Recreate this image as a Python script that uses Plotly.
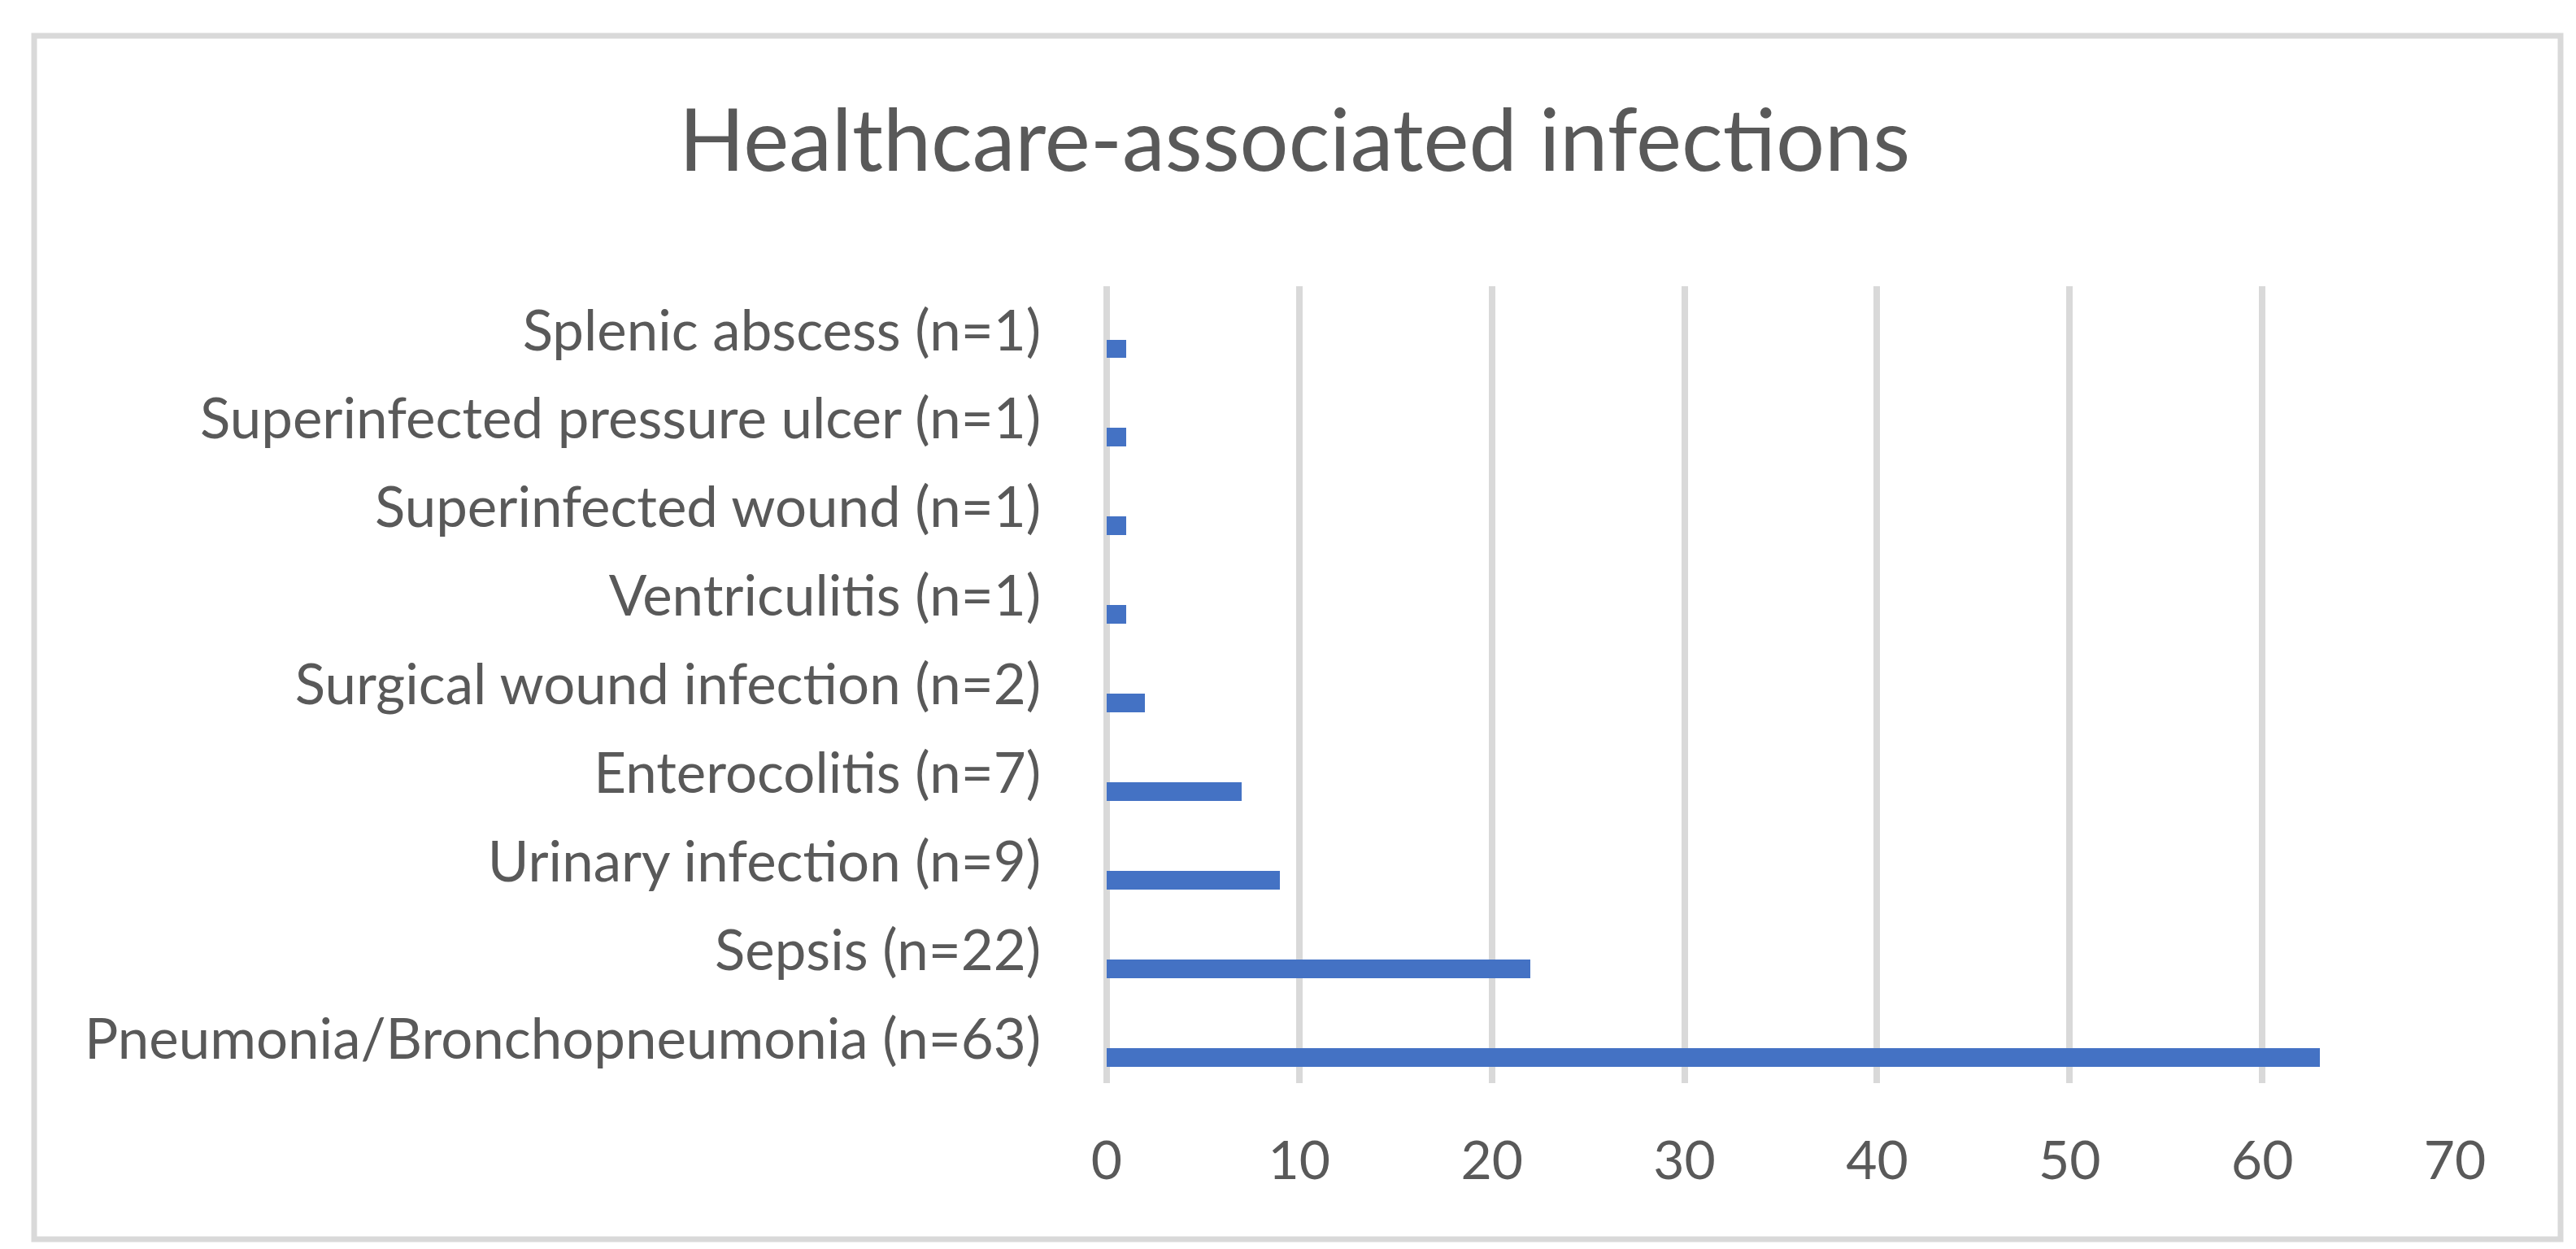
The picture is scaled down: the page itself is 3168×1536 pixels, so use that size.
import plotly.graph_objects as go

# Categories listed bottom-to-top (as drawn on the y axis)
categories = [
    "Pneumonia/Bronchopneumonia (n=63)",
    "Sepsis (n=22)",
    "Urinary infection (n=9)",
    "Enterocolitis (n=7)",
    "Surgical wound infection (n=2)",
    "Ventriculitis (n=1)",
    "Superinfected wound (n=1)",
    "Superinfected pressure ulcer (n=1)",
    "Splenic abscess (n=1)",
]
counts = [63, 22, 9, 7, 2, 1, 1, 1, 1]
x_ticks = [0, 10, 20, 30, 40, 50, 60, 70]

title_text = "Healthcare-associated infections"

FONT = "Lato"
TXT = "#595959"
GRID = "#d9d9d9"
BAR = "#4472C4"

W, H = 3168, 1536
ML, MR, MT, MB = 1353, 157, 344, 212
pw = W - ML - MR
ph = H - MT - MB

fig = go.Figure()
fig.add_trace(go.Bar(
    y=categories,
    x=counts,
    orientation="h",
    marker=dict(color=BAR, line=dict(width=0)),
    width=0.21,
    offset=-0.312,
    showlegend=False,
    hoverinfo="x+y",
))

# outer chart border (decoration)
bx0, bx1, by0, by1 = 34, 3141, 36, 1516
fig.add_shape(
    type="rect", xref="paper", yref="paper",
    x0=(bx0 - ML) / pw, x1=(bx1 - ML) / pw,
    y0=(H - MB - by1) / ph, y1=(H - MB - by0) / ph,
    line=dict(color=GRID, width=7), fillcolor="rgba(0,0,0,0)", layer="below",
)

fig.update_layout(
    width=W, height=H,
    margin=dict(l=ML, r=MR, t=MT, b=MB, autoexpand=False),
    paper_bgcolor="white",
    plot_bgcolor="white",
    font=dict(family=FONT, color=TXT),
    title=dict(
        text=title_text,
        x=0.5, xanchor="center", xref="container",
        y=1 - 165 / H, yanchor="middle", yref="container",
        font=dict(family=FONT, size=106, color=TXT),
    ),
    bargap=0,
)
fig.update_xaxes(
    range=[0, 70],
    tickvals=x_ticks,
    ticktext=[str(v) for v in x_ticks],
    showgrid=True, gridcolor=GRID, gridwidth=7.5,
    zeroline=True, zerolinecolor=GRID, zerolinewidth=7.5,
    showline=False,
    ticks="outside", ticklen=38, tickcolor="rgba(0,0,0,0)",
    tickfont=dict(family=FONT, size=66, color=TXT),
    fixedrange=True,
)
fig.update_yaxes(
    type="category",
    categoryorder="array", categoryarray=categories,
    range=[-0.5, len(categories) - 0.5],
    showgrid=False, zeroline=False, showline=False,
    ticks="outside", ticklen=66, tickcolor="rgba(0,0,0,0)",
    tickfont=dict(family=FONT, size=69, color=TXT),
    fixedrange=True,
)

fig.write_html("out.html")
